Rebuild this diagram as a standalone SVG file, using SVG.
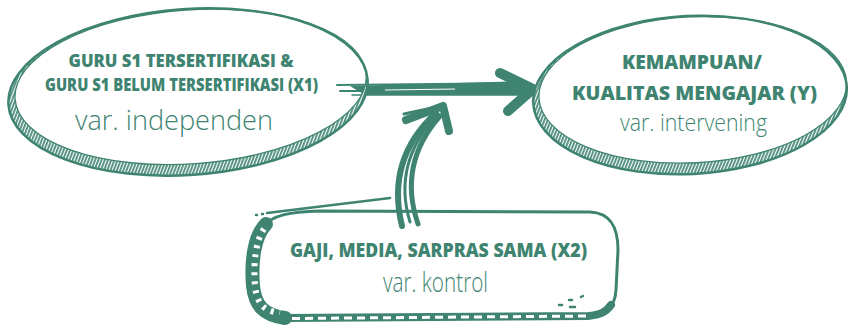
<svg xmlns="http://www.w3.org/2000/svg" width="849" height="328" viewBox="0 0 849 328">
  <style>
    .ink { fill: none; stroke: #3e8471; stroke-linecap: round; stroke-linejoin: round; }
    .title { font-family: "Open Sans", "Liberation Sans", sans-serif; font-weight: 800; fill: #3e8471; text-anchor: middle; }
    .note { font-family: "Open Sans", "Liberation Sans", sans-serif; font-weight: 300; fill: #3e8471; text-anchor: middle; }
    .band { fill: url(#hatch); fill-rule: evenodd; }
  </style>
  <defs>
    <!-- diagonal white hatching on teal, used for the shaded rims -->
    <pattern id="hatch" patternUnits="userSpaceOnUse" width="3" height="6" patternTransform="rotate(25)">
      <rect width="3" height="6" fill="#3e8471"/>
      <rect x="0.8" width="1.3" height="6" fill="#ffffff"/>
    </pattern>
  </defs>

  <rect width="849" height="328" fill="#ffffff"/>

  <!-- connectors -->
  <g id="connectors">
    <!-- horizontal arrow X1 -> Y -->
    <path d="M350,86 L528,81 L532,95 L365,95 Z" fill="#3e8471"/>
    <path class="ink" stroke-width="2" d="M337,85 L525,83"/>
    <path class="ink" stroke-width="2" d="M340,91 L525,91"/>
    <path class="ink" stroke-width="1.5" d="M352,95 L520,95"/>
    <path d="M385,90 L455,89" stroke="#ffffff" stroke-width="1" fill="none"/>
    <path class="ink" stroke-width="10" d="M500,73 L533,89 L508,111"/>
    <!-- curved arrow X2 -> main path -->
    <path class="ink" stroke-width="6" d="M402,226 C392,185 400,146 436,113"/>
    <path class="ink" stroke-width="5" d="M418,224 C405,186 410,150 440,116"/>
    <path class="ink" stroke-width="3" d="M410,222 C399,186 404,150 438,114"/>
    <path class="ink" stroke-width="8" d="M406,120 L443,106 L449,131"/>
    <path class="ink" stroke-width="3" d="M404,114 L432,108"/>
  </g>

  <!-- independent variable -->
  <g id="node-x1">
    <g transform="rotate(-4 188 92)">
      <path class="band" d="M8,92 A180,83 0 1,0 368,92 A180,83 0 1,0 8,92 Z M15,87 A176,77 0 1,0 367,87 A176,77 0 1,0 15,87 Z"/>
      <ellipse class="ink" cx="188" cy="92" rx="180" ry="83" stroke-width="2.5"/>
      <ellipse class="ink" cx="191" cy="87" rx="176" ry="77" stroke-width="1.3"/>
    </g>
    <text class="title" x="181" y="67" font-size="17" textLength="225" lengthAdjust="spacingAndGlyphs">GURU S1 TERSERTIFIKASI &amp;</text>
    <text class="title" x="181.5" y="91" font-size="17" textLength="273" lengthAdjust="spacingAndGlyphs">GURU S1 BELUM TERSERTIFIKASI (X1)</text>
    <text class="note" x="174" y="130" font-size="28" textLength="198" lengthAdjust="spacingAndGlyphs">var. independen</text>
  </g>

  <!-- intervening variable -->
  <g id="node-y">
    <g transform="rotate(-3 690 95)">
      <path class="band" d="M533,95 A157,79 0 1,0 847,95 A157,79 0 1,0 533,95 Z M539,90 A154,73 0 1,0 847,90 A154,73 0 1,0 539,90 Z"/>
      <ellipse class="ink" cx="690" cy="95" rx="157" ry="79" stroke-width="2.5"/>
      <ellipse class="ink" cx="693" cy="90" rx="154" ry="73" stroke-width="1.3"/>
    </g>
    <text class="title" x="692" y="69" font-size="20" textLength="140" lengthAdjust="spacingAndGlyphs">KEMAMPUAN/</text>
    <text class="title" x="694.5" y="100" font-size="20" textLength="245" lengthAdjust="spacingAndGlyphs">KUALITAS MENGAJAR (Y)</text>
    <text class="note" x="693.5" y="131" font-size="23" textLength="147" lengthAdjust="spacingAndGlyphs">var. intervening</text>
  </g>

  <!-- control variable -->
  <g id="node-x2">
    <path class="ink" stroke-width="3" d="M262,228 C272,214 292,212 320,211 L590,212 C610,213 618,226 618,250 L616,290 C615,308 605,316 585,317 L285,318 C265,318 256,305 254,285 L252,255 C252,240 256,232 262,228 Z"/>
    <path class="ink" stroke-width="2.5" d="M267,213 L390,198"/>
    <path class="ink" stroke-width="14" stroke-linecap="butt" d="M266,224 C254,236 251,262 253,286 C255,305 263,315 285,318"/>
    <path d="M264,229 C256,240 253,262 255,286 C257,303 263,311 280,313" fill="none" stroke="#ffffff" stroke-width="6" stroke-dasharray="3 6"/>
    <path class="ink" stroke-width="8" d="M282,318 L588,316 C600,315 606,312 611,305"/>
    <path d="M292,318.5 L590,316" fill="none" stroke="#ffffff" stroke-width="3" stroke-dasharray="8 5"/>
    <path class="ink" stroke-width="2.5" d="M256,215 L257,215 M262,214 L263,214 M559,305 L562,305 M569,300 L572,300 M581,297 L583,296 M570,307 L575,307"/>
    <text class="title" x="438.5" y="257" font-size="19" textLength="297" lengthAdjust="spacingAndGlyphs">GAJI, MEDIA, SARPRAS SAMA (X2)</text>
    <text class="note" x="435.5" y="292" font-size="27" textLength="105" lengthAdjust="spacingAndGlyphs">var. kontrol</text>
  </g>
</svg>
